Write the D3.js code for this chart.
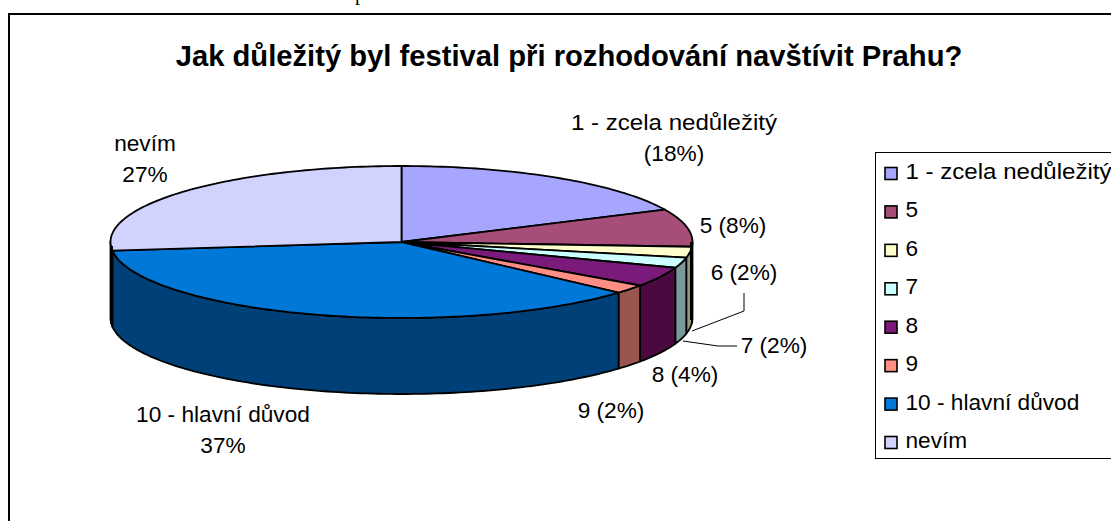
<!DOCTYPE html>
<html><head><meta charset="utf-8">
<script src="https://cdn.jsdelivr.net/npm/d3@7"></script>
<style>html,body{margin:0;padding:0;background:#fff;overflow:hidden}svg{display:block}text{font-family:"Liberation Sans",Arial,sans-serif;fill:#000}</style>
</head><body><svg id="c" width="1111" height="521"></svg>
<script>
const titleText = "Jak důležitý byl festival při rozhodování navštívit Prahu?";
const categories = ["1 - zcela nedůležitý","5","6","7","8","9","10 - hlavní důvod","nevím"];
const values = [18,8,2.3,2.2,4.2,1.9,36.6,26.8];
const topColors = ["#a6a6ff","#a64d79","#ffffcc","#ccffff","#7a1a7a","#ff8f85","#0078d8","#d2d2ff"];
const sideColors = ["#5c5c99","#66304a","#99997a","#7a9999","#4a0a40","#99564f","#004078","#7e7e99"];
const labelTexts = [["1 - zcela nedůležitý","(18%)"],["5 (8%)"],["6 (2%)"],["7 (2%)"],["8 (4%)"],["9 (2%)"],["10 - hlavní důvod","37%"],["nevím","27%"]];
const labelAnchors = [[674,130],[733,233],[744,280],[774,353],[685,382],[611,418],[223,422],[145,151]];
const leaders = [[[692,331],[744,311],[744,293]],[[683,341],[718,346],[737,346]]];

const stretch = s => s.startsWith("1 - ") ? 1.095 : 1.03;
const svg = d3.select("#c");
svg.append("rect").attr("x",9).attr("y",14).attr("width",1140).attr("height",540).attr("fill","#fff").attr("stroke","#000").attr("stroke-width",2);
svg.append("text").attr("x",569).attr("y",66).attr("text-anchor","middle").attr("font-size",29.2).attr("font-weight","bold").text(titleText);

const cx=401.5, cy=242, rx=291, ry=76, depth=76;
const arcs = d3.pie().sort(null).value(d=>d)(values);
const pt = (a,dy=0)=>[cx+rx*Math.sin(a), cy-ry*Math.cos(a)+dy];
const arcPts=(a0,a1,dy=0)=>{const n=Math.max(2,Math.ceil((a1-a0)/0.02));return d3.range(n+1).map(i=>pt(a0+(a1-a0)*i/n,dy));};
const line=d3.line();
const g=svg.append("g").attr("stroke","#000").attr("stroke-width",1.8).attr("stroke-linejoin","round");
arcs.forEach((d,i)=>{
  const a0=Math.max(d.startAngle,Math.PI/2), a1=Math.min(d.endAngle,Math.PI*1.5);
  if(a1<=a0) return;
  const p=[...arcPts(a0,a1),...arcPts(a0,a1,depth).reverse()];
  g.append("path").attr("d",line(p)+"Z").attr("fill",sideColors[i]);
});
arcs.forEach((d,i)=>{
  const p=[[cx,cy],...arcPts(d.startAngle,d.endAngle)];
  g.append("path").attr("d",line(p)+"Z").attr("fill",topColors[i]);
});
[[cx-rx+1,cy+4],[cx+rx-1,cy]].forEach(([x,y0])=>{
  svg.append("line").attr("x1",x).attr("x2",x).attr("y1",y0).attr("y2",y0+depth+2).attr("stroke","#000").attr("stroke-width",3);
});
labelTexts.forEach((t,i)=>{
  t.forEach((s,j)=>svg.append("text").attr("text-anchor","middle").attr("font-size",22)
    .attr("transform",`translate(${labelAnchors[i][0]},${labelAnchors[i][1]+j*30.5}) scale(${stretch(s)},1)`).text(s));
});
leaders.forEach(l=>svg.append("path").attr("d",line(l)).attr("fill","none").attr("stroke","#000").attr("stroke-width",1));
const y=d3.scalePoint().domain(categories).range([173.5,442.5]);
const lg=svg.append("g");
lg.append("rect").attr("x",875.5).attr("y",152.5).attr("width",300).attr("height",306).attr("fill","#fff").attr("stroke","#000").attr("stroke-width",1);
categories.forEach((c,i)=>{
  lg.append("rect").attr("x",885).attr("y",y(c)-6).attr("width",12).attr("height",12).attr("fill",topColors[i]).attr("stroke","#000").attr("stroke-width",1.6);
  lg.append("text").attr("font-size",22).attr("transform",`translate(905.5,${y(c)+5.5}) scale(${stretch(c)},1)`).text(c);
});
svg.append("text").attr("x",355).attr("y",0).style("font-family","Liberation Serif").attr("font-size",20).text("p");
</script></body></html>
